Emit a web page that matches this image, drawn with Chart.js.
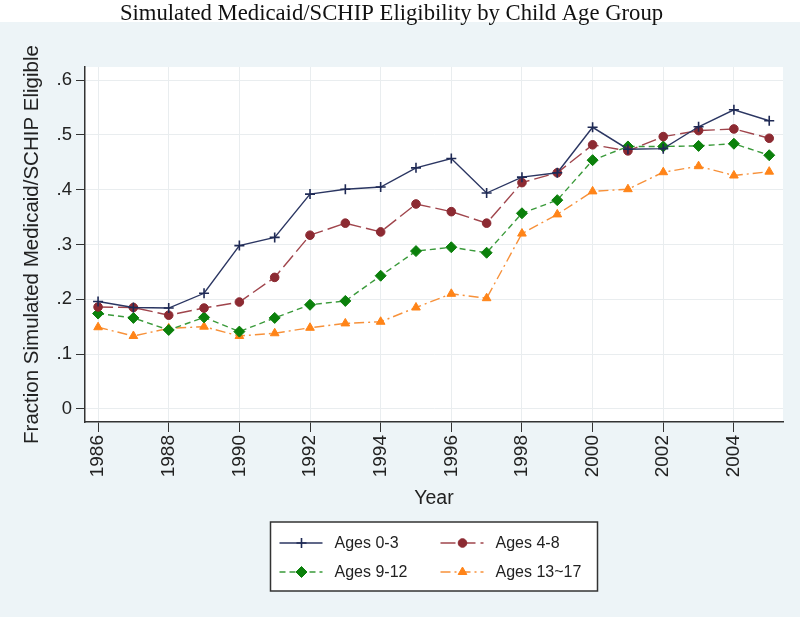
<!DOCTYPE html>
<html>
<head>
<meta charset="utf-8">
<script src="https://cdn.jsdelivr.net/npm/chart.js@4/dist/chart.umd.min.js"></script>
<style>
  html, body { margin: 0; padding: 0; background: #ffffff; }
  #wrap { width: 800px; height: 617px; }
</style>
</head>
<body>
<div id="wrap"><canvas id="chart" width="800" height="617"></canvas></div>
<script>
// values
var years = [1986, 1987, 1988, 1989, 1990, 1991, 1992, 1993, 1994, 1995,
             1996, 1997, 1998, 1999, 2000, 2001, 2002, 2003, 2004, 2005];
var ages0to3 = [0.196, 0.185, 0.184, 0.211, 0.298, 0.313, 0.392, 0.401, 0.405, 0.440,
                0.457, 0.394, 0.423, 0.431, 0.514, 0.474, 0.475, 0.515, 0.546, 0.526];
var ages4to8 = [0.186, 0.185, 0.171, 0.184, 0.195, 0.240, 0.317, 0.339, 0.323, 0.374,
                0.360, 0.339, 0.413, 0.431, 0.482, 0.471, 0.497, 0.508, 0.511, 0.494];
var ages9to12 = [0.174, 0.166, 0.144, 0.167, 0.141, 0.166, 0.190, 0.197, 0.243, 0.288,
                 0.295, 0.285, 0.357, 0.381, 0.454, 0.479, 0.479, 0.480, 0.484, 0.463];
var ages13to17 = [0.149, 0.133, 0.147, 0.150, 0.133, 0.138, 0.148, 0.156, 0.159, 0.185,
                  0.210, 0.202, 0.320, 0.355, 0.397, 0.401, 0.432, 0.443, 0.426, 0.433];
var xTicks = [1986, 1988, 1990, 1992, 1994, 1996, 1998, 2000, 2002, 2004];
var yTicks = [0, 0.1, 0.2, 0.3, 0.4, 0.5, 0.6];
var yTickLabels = ['0', '.1', '.2', '.3', '.4', '.5', '.6'];
var seriesNames = ['Ages 0-3', 'Ages 4-8', 'Ages 9-12', 'Ages 13~17'];

function pts(vals) {
    return years.map(function (y, i) { return {x: y, y: vals[i]}; });
}

var bgPlugin = {
    id: 'bg',
    beforeDraw: function (chart) {
        var ctx = chart.ctx, a = chart.chartArea;
        ctx.save();
        ctx.fillStyle = '#ffffff';
        ctx.fillRect(0, 0, chart.width, chart.height);
        ctx.fillStyle = '#edf4f7';
        ctx.fillRect(0, 22, chart.width, chart.height - 22);
        ctx.fillStyle = '#ffffff';
        ctx.fillRect(a.left, a.top, a.right - a.left, a.bottom - a.top);
        ctx.restore();
    }
};

function marker(ctx, ds, x, y) {
    var opts = {
        pointStyle: ds.pointStyle,
        radius: ds.pointRadius,
        rotation: 0,
        borderWidth: ds.pointBorderWidth
    };
    ctx.fillStyle = ds.pointBackgroundColor;
    ctx.strokeStyle = ds.pointBorderColor;
    ctx.lineWidth = ds.pointBorderWidth;
    ctx.setLineDash([]);
    Chart.helpers.drawPoint(ctx, opts, x, y);
}

var legendPlugin = {
    id: 'boxLegend',
    afterDraw: function (chart) {
        var ctx = chart.ctx, a = chart.chartArea;
        var cx = (a.left + a.right) / 2;
        var w = 327, h = 69;
        var left = cx - w / 2, top = 522;
        ctx.save();
        ctx.fillStyle = '#ffffff';
        ctx.fillRect(left, top, w, h);
        ctx.strokeStyle = '#333333';
        ctx.lineWidth = 1.5;
        ctx.strokeRect(left, top, w, h);
        ctx.font = '16px "Liberation Sans", Arial, sans-serif';
        ctx.textBaseline = 'middle';
        ctx.textAlign = 'left';
        chart.data.datasets.forEach(function (ds, i) {
            var col = i % 2, row = Math.floor(i / 2);
            var x0 = left + 9 + col * 161;
            var y0 = top + 21 + row * 29;
            ctx.strokeStyle = ds.borderColor;
            ctx.lineWidth = ds.borderWidth;
            ctx.setLineDash(ds.borderDash || []);
            ctx.beginPath();
            ctx.moveTo(x0, y0);
            ctx.lineTo(x0 + 43, y0);
            ctx.stroke();
            marker(ctx, ds, x0 + 22, y0);
            ctx.fillStyle = '#222222';
            ctx.fillText(ds.label, x0 + 55, y0 + 1);
        });
        ctx.restore();
    }
};

var ctx = document.getElementById('chart');
var chart = new Chart(ctx, {
    type: 'line',
    data: {
        datasets: [
            {
                label: seriesNames[0],
                data: pts(ages0to3),
                borderColor: '#2b3662',
                borderWidth: 1.4,
                pointStyle: 'cross',
                pointRadius: 5,
                pointBorderWidth: 1.6,
                pointBackgroundColor: '#1f2a55',
                pointBorderColor: '#1f2a55'
            },
            {
                label: seriesNames[1],
                data: pts(ages4to8),
                borderColor: '#a0454c',
                borderWidth: 1.4,
                borderDash: [15, 5],
                pointStyle: 'circle',
                pointRadius: 4.3,
                pointBorderWidth: 1,
                pointBackgroundColor: '#8c2a32',
                pointBorderColor: '#8c2a32'
            },
            {
                label: seriesNames[2],
                data: pts(ages9to12),
                borderColor: '#3a9a3a',
                borderWidth: 1.4,
                borderDash: [6, 4],
                pointStyle: 'rectRot',
                pointRadius: 5.5,
                pointBorderWidth: 1,
                pointBackgroundColor: '#0b800b',
                pointBorderColor: '#0b800b'
            },
            {
                label: seriesNames[3],
                data: pts(ages13to17),
                borderColor: '#f7913a',
                borderWidth: 1.4,
                borderDash: [10, 4, 2, 4],
                pointStyle: 'triangle',
                pointRadius: 5,
                pointBorderWidth: 1,
                pointBackgroundColor: '#ff8418',
                pointBorderColor: '#ff8418'
            }
        ]
    },
    options: {
        responsive: false,
        animation: false,
        layout: { padding: { left: 0, right: 17, top: 0, bottom: 0 } },
        plugins: {
            legend: { display: false },
            tooltip: { enabled: false },
            title: {
                display: true,
                text: 'Simulated Medicaid/SCHIP Eligibility by Child Age Group',
                color: '#111111',
                font: { family: '"Liberation Serif", "Times New Roman", serif', size: 22.7, weight: 'normal' },
                padding: { top: 0, bottom: 39.8 }
            }
        },
        scales: {
            x: {
                type: 'linear',
                min: 1985.63,
                max: 2005.39,
                afterBuildTicks: function (s) {
                    s.ticks = xTicks.map(function (v) { return {value: v}; });
                },
                afterFit: function (s) { s.height = 195; },
                ticks: {
                    minRotation: 90,
                    maxRotation: 90,
                    padding: 3,
                    color: '#222222',
                    font: { family: '"Liberation Sans", Arial, sans-serif', size: 19 },
                    callback: function (v) { return String(v); }
                },
                grid: {
                    color: '#e9edef',
                    lineWidth: 1,
                    tickColor: '#333333',
                    tickLength: 10
                },
                border: { display: true, color: '#333333', width: 1.5 },
                title: {
                    display: true,
                    text: 'Year',
                    color: '#222222',
                    font: { family: '"Liberation Sans", Arial, sans-serif', size: 19.5 },
                    padding: { top: 0, bottom: 106.5 }
                }
            },
            y: {
                min: -0.024,
                max: 0.624,
                afterBuildTicks: function (s) {
                    s.ticks = yTicks.map(function (v) { return {value: v}; });
                },
                afterFit: function (s) { s.width = 85; },
                ticks: {
                    padding: 4,
                    color: '#222222',
                    font: { family: '"Liberation Sans", Arial, sans-serif', size: 18.5 },
                    callback: function (v) {
                        var i = yTicks.indexOf(v);
                        return i >= 0 ? yTickLabels[i] : '';
                    }
                },
                grid: {
                    color: '#e9edef',
                    lineWidth: 1,
                    tickColor: '#333333',
                    tickLength: 9
                },
                border: { display: true, color: '#333333', width: 1.5 },
                title: {
                    display: true,
                    text: 'Fraction Simulated Medicaid/SCHIP Eligible',
                    color: '#222222',
                    font: { family: '"Liberation Sans", Arial, sans-serif', size: 20.5 },
                    padding: { top: 20.5, bottom: 0 }
                }
            }
        }
    },
    plugins: [bgPlugin, legendPlugin]
});
</script>
</body>
</html>
